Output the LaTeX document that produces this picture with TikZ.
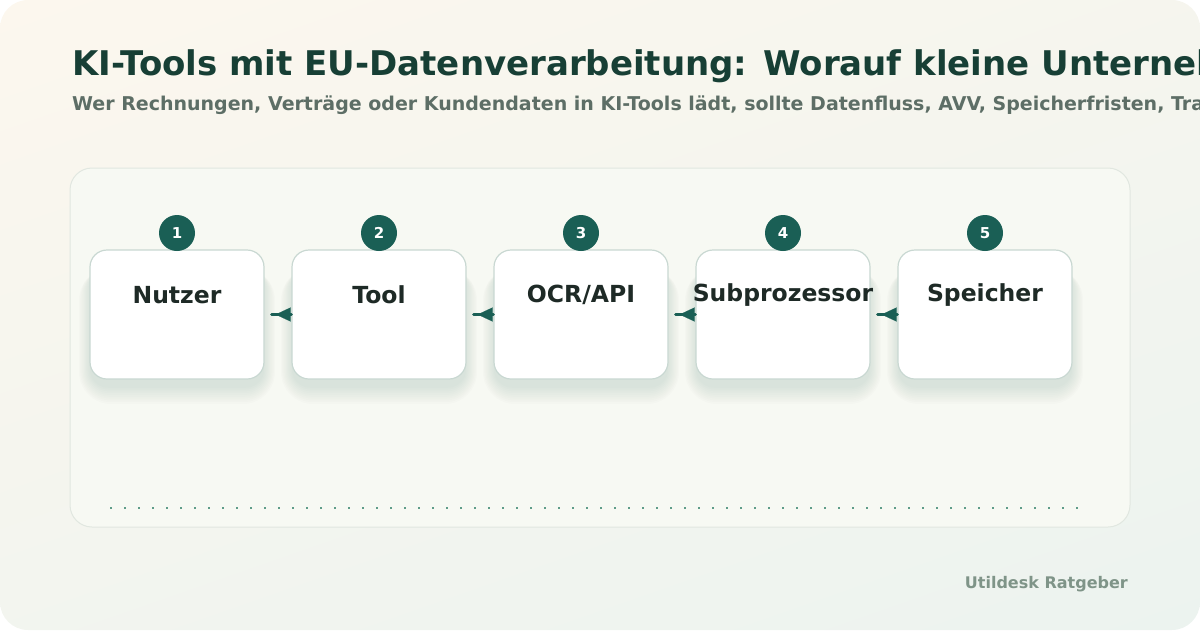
\documentclass[tikz,border=0pt]{standalone}
\usepackage{fontspec}
\setmainfont{DejaVu Sans}
\usetikzlibrary{arrows.meta,shadings}
\definecolor{deepgreen}{HTML}{173F35}
\definecolor{subgrey}{HTML}{5D6E66}
\definecolor{badgegreen}{HTML}{1A5F55}
\definecolor{boxline}{HTML}{C9D8D2}
\definecolor{boxtext}{HTML}{1E2A26}
\definecolor{panelfill}{HTML}{F7F9F3}
\definecolor{panelline}{HTML}{E1E7E0}
\definecolor{cream}{HTML}{FCF7EE}
\definecolor{mint}{HTML}{ECF3EF}
\definecolor{footgrey}{HTML}{7F9488}
\definecolor{dotgreen}{HTML}{5E9C88}
\definecolor{shadowgrey}{HTML}{2E4A40}
\tikzset{
  stepbox/.style={rectangle, rounded corners=17pt, minimum width=174pt, minimum height=129pt,
    draw=boxline, line width=1.2pt, fill=white},
  steptext/.style={font=\bfseries\fontsize{23.5}{26}\selectfont, text=boxtext},
  badge/.style={circle, fill=badgegreen, minimum size=36pt, inner sep=0pt, text=white, font=\bfseries\fontsize{15}{17}\selectfont},
  flowline/.style={draw=badgegreen, line width=3pt, line cap=round},
  flowtip/.style={draw=badgegreen, line width=0.1pt, -{Triangle[length=15pt,width=14pt]}}
}
\begin{document}
\begin{tikzpicture}[x=1pt,y=-1pt]
\useasboundingbox (0,0) rectangle (1200,630);
\clip[rounded corners=28pt] (0,0) rectangle (1200,630);
\shade[upper left=cream, lower right=mint, upper right=mint!40!cream, lower left=mint!60!cream] (0,0) rectangle (1200,630);
\node[anchor=base west, inner sep=0pt, font=\bfseries\fontsize{34}{38}\selectfont, text=deepgreen] (title) at (72,75){KI-Tools mit EU-Datenverarbeitung: Worauf kleine Unternehmen};
\node[anchor=base west, inner sep=0pt, font=\bfseries\fontsize{19}{22}\selectfont, text=subgrey] (subtitle) at (72,110){Wer Rechnungen, Verträge oder Kundendaten in KI-Tools lädt, sollte Datenfluss, AVV, Speicherfristen, Transfers};
\draw[panelline, fill=panelfill, rounded corners=22pt, line width=1pt] (70,168) rectangle (1130,527);
\foreach \x in {177,379,581,783,985}
  \foreach \k in {1,...,10}
    \fill[shadowgrey, opacity=0.01, rounded corners=17pt+\k*1.5pt] (\x-86-\k*1.2,268) rectangle (\x+86+\k*1.2,386+\k*1.8);
\node[stepbox] (b1) at (177,314.5){};
\node[stepbox] (b2) at (379,314.5){};
\node[stepbox] (b3) at (581,314.5){};
\node[stepbox] (b4) at (783,314.5){};
\node[stepbox] (b5) at (985,314.5){};
\node[steptext] (t1) at (177,295){Nutzer};
\node[steptext] (t2) at (379,295){Tool};
\node[steptext] (t3) at (581,295){OCR/API};
\node[steptext] (t4) at (783,295){Subprozessor};
\node[steptext] (t5) at (985,295){Speicher};
\node[badge] (n1) at (177,233){1};
\node[badge] (n2) at (379,233){2};
\node[badge] (n3) at (581,233){3};
\node[badge] (n4) at (783,233){4};
\node[badge] (n5) at (985,233){5};
\foreach \i/\j in {1/2,2/3,3/4,4/5}{
  \draw[flowline] (b\j.west) -- ([xshift=7pt]b\i.east);
  \draw[flowtip] (b\j.west) -- ([xshift=11pt]b\i.east);
}
\coordinate (dotstart) at (110,508);
\coordinate (dotend) at (1080,508);
\draw[dotgreen, line width=2pt, dash pattern=on 1.6pt off 12.4pt] (dotstart) -- (dotend);
\node[anchor=base east, inner sep=0pt, font=\bfseries\fontsize{16}{19}\selectfont, text=footgrey] (footer) at (1128,588){Utildesk Ratgeber};
\end{tikzpicture}
\end{document}
